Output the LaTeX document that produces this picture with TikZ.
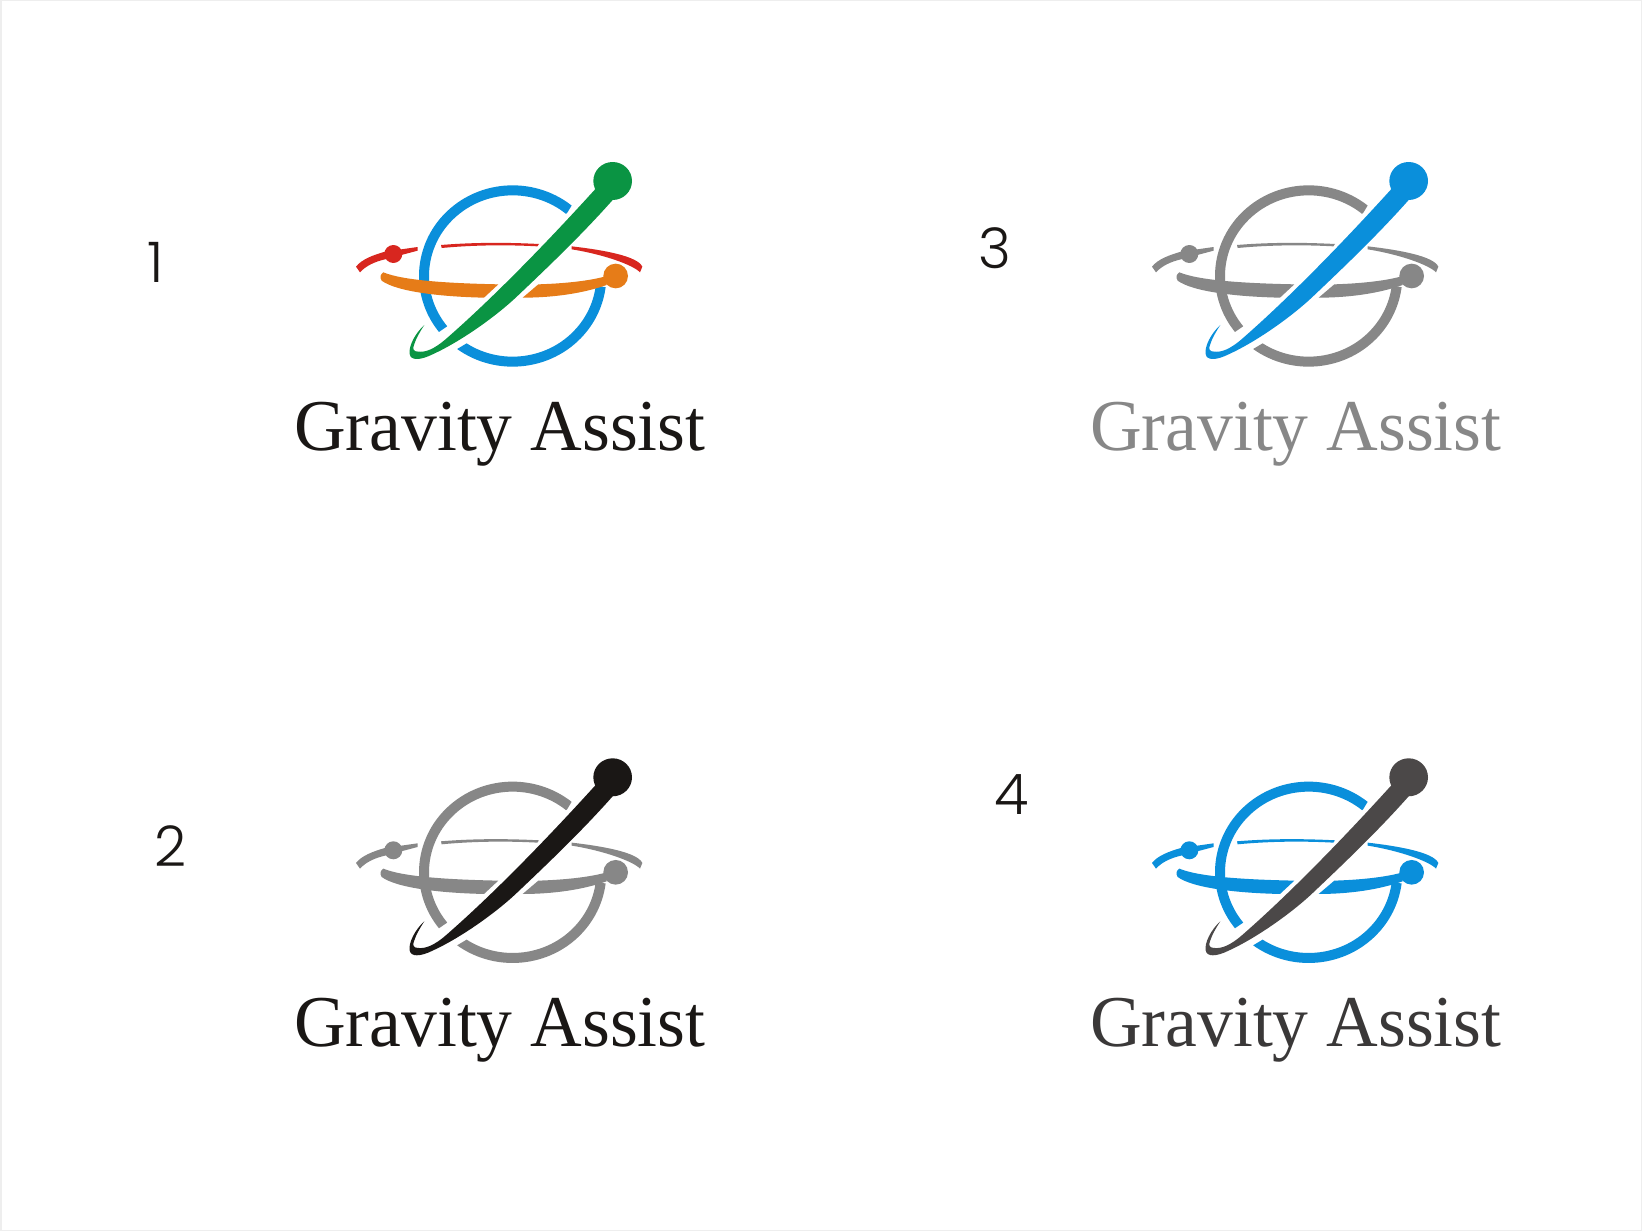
\documentclass[tikz,border=0pt]{standalone}
\usepackage{fontspec}
\setmainfont{Liberation Serif}
\newfontfamily\wordfont[FakeStretch=0.98]{Liberation Serif}
\newfontfamily\numfont{Poppins Light}
\definecolor{gblue}{HTML}{0A8FDB}
\definecolor{ggreen}{HTML}{0A9443}
\definecolor{gred}{HTML}{D8261F}
\definecolor{gorange}{HTML}{E67C18}
\definecolor{ggrey}{HTML}{878787}
\definecolor{gblack}{HTML}{1A1715}
\definecolor{gdark}{HTML}{4B4848}
\definecolor{gtextdark}{HTML}{3A3838}
\definecolor{gframe}{HTML}{EEEEEE}
\tikzset{
  wordmark/.style={anchor=base west,inner sep=0pt,font=\wordfont\fontsize{73}{73}\selectfont},
  numeral/.style={anchor=center,inner sep=0pt,text=gblack,font=\numfont\fontsize{56}{56}\selectfont},
  ringarc/.style={line width=10pt,line cap=butt}
}
% #1 x, #2 y, #3 name, #4 ring, #5 thin orbit, #6 band, #7 tail, #8 text
\newcommand{\gravlogo}[8]{%
  \begin{scope}[shift={(#1,#2)},scale=0.33333]
    \begin{scope}
      \clip (740,92) -- (682,188) -- (320,530) -- (150,647) -- (0,647) -- (0,0) -- (740,0) -- cycle;
      \draw[ringarc,draw=#4] (518,378) ++(-42:266 and 257) arc[start angle=-42,end angle=-222,x radius=266,y radius=257];
    \end{scope}
    \begin{scope}
      \clip (250,658) -- (380,580) -- (800,200) -- (1000,200) -- (1000,700) -- (250,700) -- cycle;
      \draw[ringarc,draw=#4] (518,378) ++(130:266 and 257) arc[start angle=130,end angle=7,x radius=266,y radius=257];
    \end{scope}
    \fill[#5] (48,350) .. controls (65,328) and (100,315) .. (135,305) -- (233,291) -- (233,302) -- (135,328) .. controls (105,335) and (78,347) .. (60,367) -- cycle;
    \fill[#5] (160,312) circle[radius=27];
    \fill[#5] (303,285) .. controls (400,277) and (500,277) .. (597,282) -- (592,289) .. controls (500,284) and (400,285) .. (305,294) -- cycle;
    \fill[#5] (695,289) .. controls (790,300) and (892,318) .. (907,350) -- (900,367) .. controls (880,345) and (790,313) .. (695,298) -- cycle;
    \fill[#6] (130,367) .. controls (190,392) and (330,400) .. (475,403) -- (432,443) .. controls (300,440) and (170,425) .. (125,392) .. controls (118,382) and (122,372) .. (130,367) -- cycle;
    \fill[#6] (595,403) .. controls (690,400) and (760,390) .. (800,378) -- (800,405) .. controls (730,430) and (640,443) .. (548,443) -- cycle;
    \fill[#6] (827,378) circle[radius=37];
    \fill[#7] (768,115) .. controls (650,245) and (480,425) .. (320,565) .. controls (280,600) and (255,607) .. (235,605) .. controls (222,605) and (216,598) .. (222,585) .. controls (228,565) and (240,545) .. (253,525) .. controls (225,550) and (205,590) .. (209,612) .. controls (212,632) and (240,632) .. (280,612) .. controls (360,575) and (460,505) .. (525,445) .. controls (620,355) and (725,255) .. (818,150) -- cycle;
    \fill[#7] (818,93) ellipse[x radius=58,y radius=57];
  \end{scope}
  \node[wordmark,text=#8] (#3) at ({#1-46},{#2+300}) {Gravity Assist};
}
\begin{document}
\begin{tikzpicture}[x=1pt,y=-1pt]
  \useasboundingbox (0,0) rectangle (1642,1231);
  \fill[white] (0,0) rectangle (1642,1231);
  \draw[gframe,line width=3pt] (0,0) rectangle (1642,1231);
  \gravlogo{340}{150}{logoA}{gblue}{gred}{gorange}{ggreen}{gblack}
  \gravlogo{1136}{150}{logoC}{ggrey}{ggrey}{ggrey}{gblue}{ggrey}
  \gravlogo{340}{746.3}{logoB}{ggrey}{ggrey}{ggrey}{gblack}{gblack}
  \gravlogo{1136}{746.3}{logoD}{gblue}{gblue}{gblue}{gdark}{gtextdark}
  \node[numeral] (numA) at (156,262) {1};
  \node[numeral] (numB) at (171,846) {2};
  \node[numeral] (numC) at (994.5,248) {3};
  \node[numeral] (numD) at (1011.5,795) {4};
\end{tikzpicture}
\end{document}
